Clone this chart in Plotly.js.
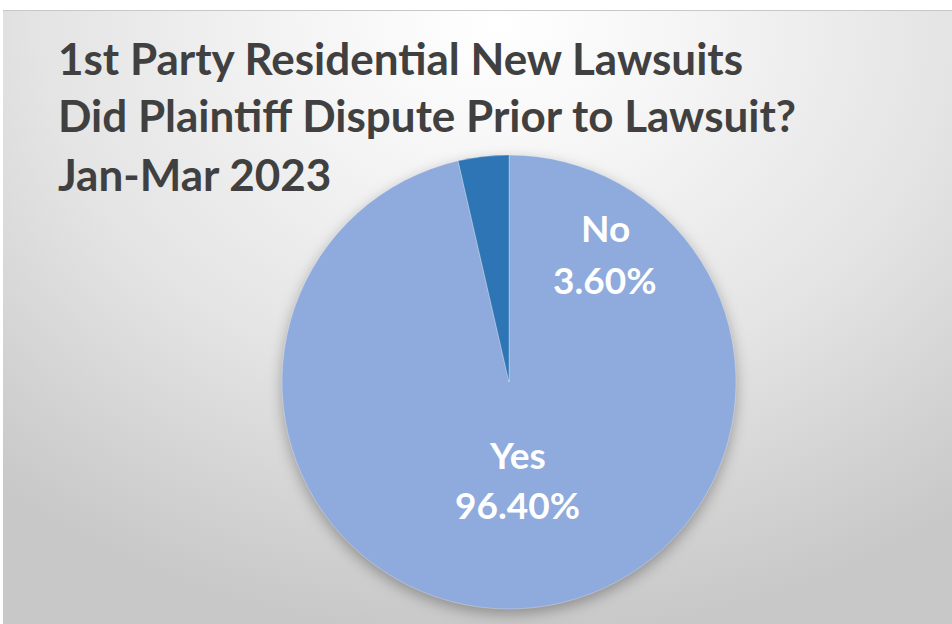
<!DOCTYPE html>
<html>
<head>
<meta charset="utf-8">
<script src="https://cdn.plot.ly/plotly-3.0.1.min.js"></script>
<style>
  html, body { margin: 0; padding: 0; background: #ffffff; }
  #bg {
    position: absolute; left: 3px; top: 10px; width: 949px; height: 614px;
    background: radial-gradient(ellipse 80% 100% at 52% 2%, #ffffff 0%, #f5f5f5 25%, #e4e4e4 60%, #d2d2d2 85%, #c8c8c8 100%);
    border-top: 1px solid #c8c8c8;
  }
  #chart { position: absolute; left: 0; top: 0; width: 952px; height: 624px; }
  #chart .pielayer { filter: drop-shadow(0px 5px 7px rgba(0,0,0,0.30)); }
</style>
</head>
<body>
<div id="bg"></div>
<div id="chart"></div>
<script>
const titleLines = ['1st Party Residential New Lawsuits', 'Did Plaintiff Dispute Prior to Lawsuit?', 'Jan-Mar 2023'];
const labels = ['Yes', 'No'];
const values = [96.4, 3.6];
const colors = ['#8FAADC', '#2E75B6'];

const W = 952, H = 624;
const cx = 509, cy = 382, r = 227;

const trace = {
  type: 'pie',
  labels: labels,
  values: values,
  sort: false,
  direction: 'clockwise',
  rotation: 0,
  textinfo: 'none',
  hoverinfo: 'label+percent',
  marker: { colors: colors, line: { color: 'rgba(255,255,255,0.35)', width: 0.8 } },
  domain: { x: [(cx - r) / W, (cx + r) / W], y: [(H - cy - r) / H, (H - cy + r) / H] },
  showlegend: false
};

const px = (x) => x / W;
const py = (y) => 1 - y / H;

const annotations = [];
const titleY = [58, 115, 174];
titleLines.forEach((t, i) => {
  annotations.push({
    text: t, xref: 'paper', yref: 'paper', x: px(56), y: py(titleY[i]),
    xanchor: 'left', yanchor: 'middle', showarrow: false,
    font: { family: 'Lato, "Open Sans", sans-serif', size: 44, color: '#404040', weight: 'bold' }
  });
});

const labelPos = [ { x: 517, y1: 454, y2: 504 }, { x: 605, y1: 227, y2: 279 } ];
labels.forEach((lab, i) => {
  const p = labelPos[i];
  const lf = { family: 'Lato, "Open Sans", sans-serif', size: 37, color: '#ffffff', weight: 'bold' };
  annotations.push({ text: lab, xref: 'paper', yref: 'paper', x: px(p.x), y: py(p.y1),
    xanchor: 'center', yanchor: 'middle', showarrow: false, font: lf });
  annotations.push({ text: values[i].toFixed(2) + '%', xref: 'paper', yref: 'paper', x: px(p.x), y: py(p.y2),
    xanchor: 'center', yanchor: 'middle', showarrow: false, font: lf });
});

const layout = {
  width: W, height: H,
  margin: { l: 0, r: 0, t: 0, b: 0 },
  paper_bgcolor: 'rgba(0,0,0,0)',
  plot_bgcolor: 'rgba(0,0,0,0)',
  annotations: annotations
};

Plotly.newPlot('chart', [trace], layout, { displayModeBar: false, staticPlot: true });
</script>
</body>
</html>
